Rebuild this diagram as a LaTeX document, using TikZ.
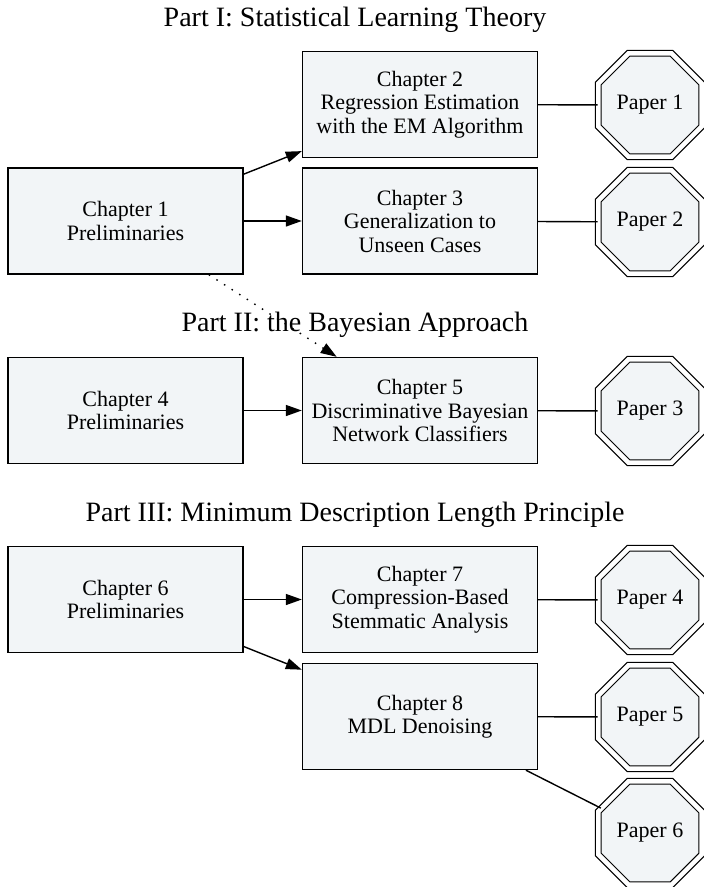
\documentclass[tikz,border=0pt]{standalone}
\usepackage{fontspec}
\setmainfont{Liberation Serif}
\usetikzlibrary{shapes.geometric,arrows.meta}
\definecolor{boxfill}{RGB}{242,245,247}
\tikzset{
  chapbox/.style={draw=black, line width=1.4bp, fill=boxfill, minimum width=235bp, minimum height=106bp,
    align=center, inner sep=0pt, font=\fontsize{22bp}{23.5bp}\selectfont},
  paperoct/.style={regular polygon, regular polygon sides=8, minimum size=112bp, draw=black, line width=1.2bp,
    double=white, double distance=4.5bp, fill=boxfill, inner sep=0pt, font=\fontsize{22bp}{23.5bp}\selectfont},
  parttitle/.style={anchor=base, font=\fontsize{28bp}{30bp}\selectfont},
  link/.style={line width=1.4bp},
  goes/.style={link, -{Triangle[length=16bp,width=11bp]}},
  hint/.style={goes, dash pattern=on 1.5bp off 7.5bp}
}
\begin{document}
\begin{tikzpicture}[x=1bp,y=-1bp]
\useasboundingbox (0,0) rectangle (704,887);
\fill[white] (0,0) rectangle (704,887);
\pgfmathsetmacro\leftx{125.5};
\pgfmathsetmacro\midx{420};
\pgfmathsetmacro\papx{650};
% Part I
\node[parttitle] (part1) at (355,26) {Part I: Statistical Learning Theory};
\node[chapbox] (ch1) at (\leftx,221) {Chapter 1\\Preliminaries};
\node[chapbox] (ch2) at (\midx,104.5) {Chapter 2\\Regression Estimation\\with the EM Algorithm};
\node[chapbox] (ch3) at (\midx,221) {Chapter 3\\Generalization to\\Unseen Cases};
% Part II
\node[parttitle] (part2) at (355,331) {Part II: the Bayesian Approach};
\node[chapbox] (ch4) at (\leftx,410.5) {Chapter 4\\Preliminaries};
\node[chapbox] (ch5) at (\midx,410.5) {Chapter 5\\Discriminative Bayesian\\Network Classifiers};
% Part III
\node[parttitle] (part3) at (355,521) {Part III: Minimum Description Length Principle};
\node[chapbox] (ch6) at (\leftx,599.5) {Chapter 6\\Preliminaries};
\node[chapbox] (ch7) at (\midx,599.5) {Chapter 7\\Compression-Based\\Stemmatic Analysis};
\node[chapbox] (ch8) at (\midx,716.5) {Chapter 8\\MDL Denoising};
% papers
\foreach \n/\y in {1/105,2/222,3/411,4/600,5/717,6/833} \node[paperoct] (p\n) at (\papx,\y) {Paper \n};
% edges
\draw[goes] (ch1) -- (ch2);
\draw[goes] (ch1) -- (ch3);
\draw[hint] (ch1) -- (ch5);
\draw[goes] (ch4) -- (ch5);
\draw[goes] (ch6) -- (ch7);
\draw[goes] (ch6) -- (ch8);
\foreach \c/\p in {ch2/p1,ch3/p2,ch5/p3,ch7/p4,ch8/p5,ch8/p6} \draw[link] (\c) -- (\p);
\end{tikzpicture}
\end{document}
